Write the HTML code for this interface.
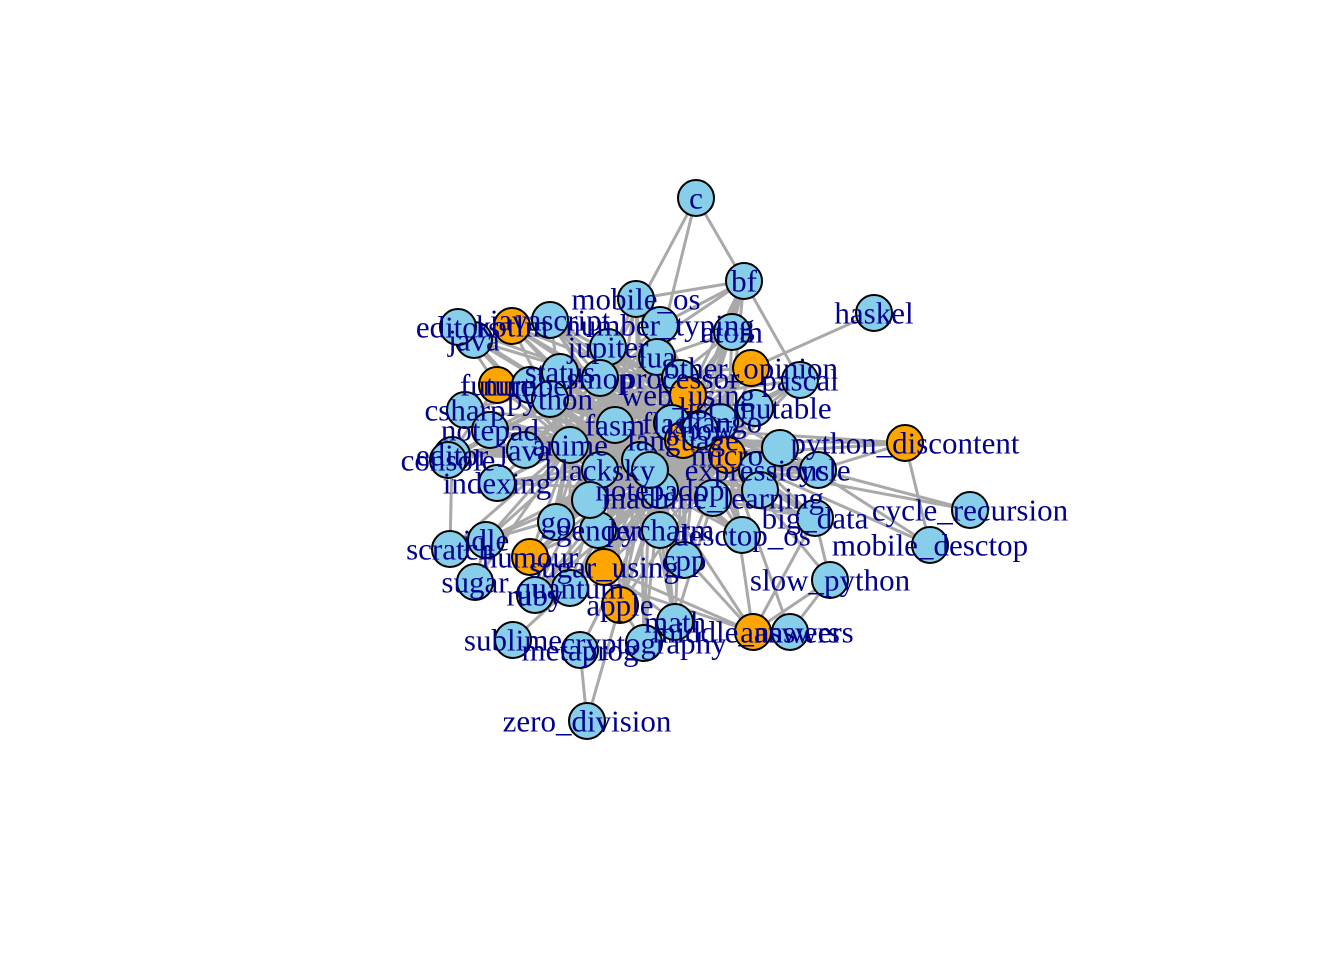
<!DOCTYPE html>
<html><head><meta charset="utf-8">
<style>
html,body{margin:0;padding:0;background:#fff;}
svg text{font-family:"Liberation Serif",serif;font-size:31px;fill:#00008B;text-anchor:middle;dominant-baseline:central;}
</style></head>
<body>
<svg id="net" width="1344" height="960" xmlns="http://www.w3.org/2000/svg">
<g id="edges"></g>
<g id="nodes"></g>
<g id="labels"></g>
</svg>
<script>
const nodeNames = ["c","bf","haskel","mobile_os","javascript","kotlin","java_top","editors","number_typing","atom","jupiter","lua","other_opinion","processor","pascal","future","number","status","smop","python","csharp","web_using","list_mutable","notepad","fasm","flask","django","editor","console","java","anime","blacksmith","language","micro","python_discontent","expressions","cycle","know","indexing","notepadpp","machine_learning","big_data","desctop_os","cycle_recursion","mobile_desctop","go","gender","pycharm","cpp","idle","scratch","humour","sugar_using","sugar","ruby","quantum","apple","slow_python","math","middle_answers","answers","sublime","metaprog","cryptography","zero_division","py","ai","web","dict","kw"];
const nodeLabels = ["c","bf","haskel","mobile_os","javascript","kotlin","java","editors","number_typing","atom","jupiter","lua","other_opinion","processor","pascal","future","number","status","smop","python","csharp","web_using","list_mutable","notepad","fasm","flask","django","editor","console","java","anime","blacksky","language","micro","python_discontent","expressions","cycle","know","indexing","notepadpp","machine_learning","big_data","desctop_os","cycle_recursion","mobile_desctop","go","gender","pycharm","cpp","idle","scratch","humour","sugar_using","sugar","ruby","quantum","apple","slow_python","math","middle_answers","answers","sublime","metaprog","cryptography","zero_division","","","","",""];
const nodeX = [696,744,874,636,550,512,474,458,660,732,608,657,751,680,800,497,530,560,600,550,465,688,755,490,615,672,720,452,448,525,570,600,683,727,905,757,818,700,497,660,713,815,742,970,930,556,598,660,684,486,450,530,604,475,535,570,620,830,675,753,790,513,580,644,587,640,650,780,590,760];
const nodeY = [198,281,313,299,320,326,340,327,325,332,347,357,368,378,380,385,385,372,378,399,410,395,408,430,425,423,422,455,460,450,445,470,440,455,443,470,470,430,483,490,498,518,535,510,545,522,530,530,560,540,549,557,567,582,595,588,605,580,622,632,632,640,650,643,721,460,470,448,500,490];
const nodeOrange = ["kotlin","future","other_opinion","web_using","language","micro","python_discontent","humour","sugar_using","apple","middle_answers"];
const hubs = ["language","micro","web_using","smop","fasm","anime","py","ai","know","notepadpp"];
const extraEdges = [["c","bf"],["c","lua"],["c","smop"],["bf","atom"],["bf","number_typing"],["bf","mobile_os"],["bf","know"],["bf","pascal"],["haskel","other_opinion"],["python_discontent","language"],["python_discontent","micro"],["python_discontent","cycle"],["python_discontent","mobile_desctop"],["python_discontent","know"],["cycle_recursion","cycle"],["cycle_recursion","expressions"],["mobile_desctop","web"],["mobile_desctop","micro"],["zero_division","metaprog"],["zero_division","apple"],["middle_answers","slow_python"],["middle_answers","sugar_using"],["middle_answers","pycharm"],["middle_answers","big_data"],["middle_answers","humour"],["answers","slow_python"],["slow_python","big_data"],["sublime","quantum"],["cryptography","apple"],["math","sugar_using"],["scratch","editor"],["sugar","idle"],["console","future"],["editors","future"],["kotlin","language"],["other_opinion","micro"],["big_data","micro"],["desctop_os","web_using"]];
const edgesEl=document.getElementById('edges'),nodesEl=document.getElementById('nodes'),labelsEl=document.getElementById('labels');
const NS="http://www.w3.org/2000/svg";
const idx=n=>nodeNames.indexOf(n);
const edgeList=[];
hubs.forEach(h=>{const hi=idx(h);nodeNames.forEach((n,j)=>{if(j===hi)return;const d=Math.hypot(nodeX[hi]-nodeX[j],nodeY[hi]-nodeY[j]);if(d<190)edgeList.push([hi,j]);});});
extraEdges.forEach(e=>edgeList.push([idx(e[0]),idx(e[1])]));
edgeList.forEach(([a,b])=>{
 const l=document.createElementNS(NS,'line');
 
 
 l.setAttribute('x1',nodeX[a]);l.setAttribute('y1',nodeY[a]);l.setAttribute('x2',nodeX[b]);l.setAttribute('y2',nodeY[b]);
 l.setAttribute('stroke','#A9A9A9');l.setAttribute('stroke-width','3');
 edgesEl.appendChild(l);
});
nodeNames.forEach((n,i)=>{
 const c=document.createElementNS(NS,'circle');
 
 
 c.setAttribute('cx',nodeX[i]);c.setAttribute('cy',nodeY[i]);c.setAttribute('r','18');
 c.setAttribute('fill',nodeOrange.includes(n)?'#FFA500':'#87CEEB');
 c.setAttribute('stroke','#000');c.setAttribute('stroke-width','2');
 nodesEl.appendChild(c);
 if(nodeLabels[i]){
  const t=document.createElementNS(NS,'text');
  
  
  t.setAttribute('x',nodeX[i]);t.setAttribute('y',nodeY[i]);
  t.textContent=nodeLabels[i];
  labelsEl.appendChild(t);
 }
});
</script>
</body></html>
